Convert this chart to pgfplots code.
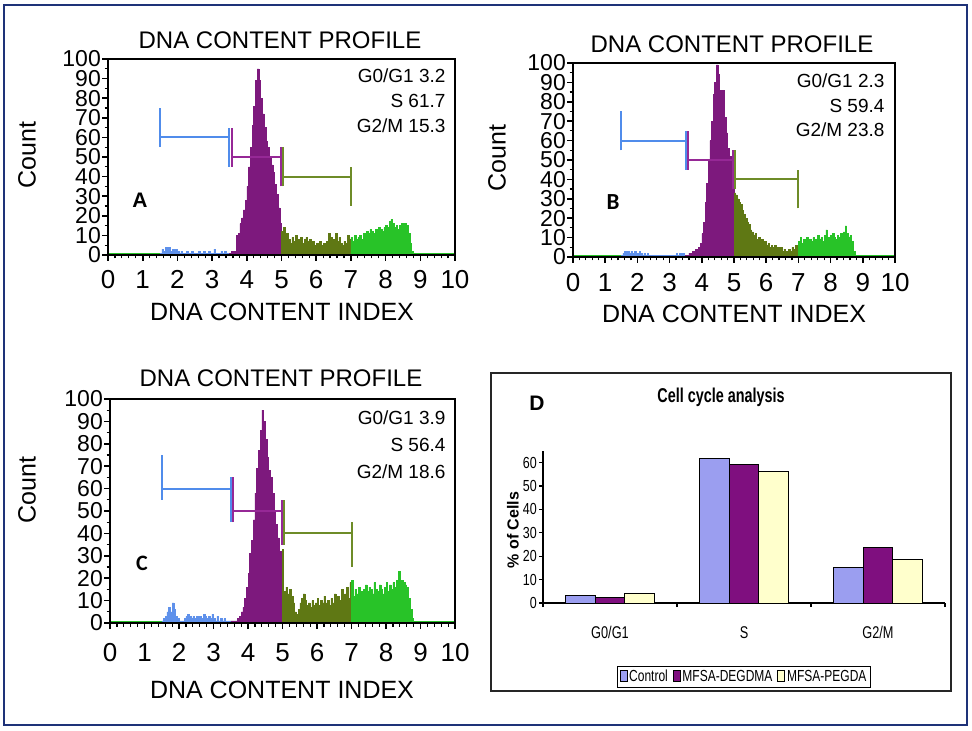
\documentclass[border=0pt]{standalone}
\usepackage{pgfplots}
\pgfplotsset{compat=1.18}
\usepackage{fontspec}
\usepackage{graphicx}
\setmainfont{Liberation Sans}
\newfontfamily\carlito{Carlito}
\definecolor{frameC}{RGB}{30,50,120}
\definecolor{blueH}{RGB}{95,145,235}
\definecolor{purpH}{RGB}{125,25,125}
\definecolor{oliveH}{RGB}{95,120,20}
\definecolor{greenH}{RGB}{40,195,40}
\definecolor{blueB}{RGB}{80,140,235}
\definecolor{purpB}{RGB}{150,40,150}
\definecolor{oliveB}{RGB}{110,140,40}
\definecolor{ctrlC}{RGB}{155,158,240}
\definecolor{degC}{RGB}{127,15,127}
\definecolor{pegC}{RGB}{255,255,204}
\newcommand{\fs}[1]{\fontsize{#1}{#1}\selectfont}
\newcommand{\nar}[1]{\scalebox{0.75}[1]{#1}}
\pgfplotsset{
  hist/.style={const plot, fill=#1, draw=#1, line width=0.5pt},
  gate/.style={#1, line width=2pt},
  histaxis/.style={scale only axis, axis on top, xmin=0, xmax=10, ymin=0, ymax=100,
    xtick={0,...,10}, ytick={0,10,...,100}, minor x tick num=4, minor y tick num=1,
    tick align=outside, tick pos=left,
    major tick length=6pt, minor tick length=3.5pt,
    tick style={black, line width=1.6pt},
    minor tick style={black, line width=1.2pt},
    axis line style={line width=1.8pt, black},
    xticklabel style={font=\fs{26}, inner sep=2pt},
    yticklabel style={font=\fs{23}, inner sep=1pt},
    /pgf/number format/assume math mode=true},
}
\newcommand{\gates}{%
  \addplot[gate=blueB] coordinates {(1.5,55)(1.5,75)};
  \addplot[gate=blueB] coordinates {(1.5,60)(3.5,60)};
  \addplot[gate=blueB] coordinates {(3.5,45)(3.5,65)};
  \addplot[gate=purpB] coordinates {(3.56,45)(3.56,65)};
  \addplot[gate=purpB] coordinates {(3.56,50)(4.98,50)};
  \addplot[gate=purpB] coordinates {(4.98,35)(4.98,55)};
  \addplot[gate=oliveB] coordinates {(5.04,35)(5.04,55)};
  \addplot[gate=oliveB] coordinates {(5.04,40)(7,40)};
  \addplot[gate=oliveB] coordinates {(7,25)(7,45)};
}
\begin{document}
\begin{tikzpicture}
\useasboundingbox (0pt,0pt) rectangle (972pt,731pt);
\fill[white] (0pt,0pt) rectangle (972pt,731pt);

% ---------------- Panel A ----------------
\begin{axis}[histaxis, at={(108pt,476pt)}, anchor=south west, width=347pt, height=196pt,
  xticklabel style={yshift=-7pt}]
\addplot[greenH, line width=1.5pt] coordinates {(0,0.6)(10,0.6)};
\addplot[hist=blueH] coordinates {(1.50,1)(1.55,3)(1.60,2)(1.65,4)(1.70,3)(1.75,4)(1.80,2)(1.85,3)(1.90,2)(1.95,3)(2.00,2)(2.05,1)(2.10,2)(2.15,1)(2.20,1)(2.25,2)(2.30,1)(2.35,1)(2.40,2)(2.45,1)(2.50,1)(2.55,1)(2.60,2)(2.65,1)(2.70,1)(2.75,2)(2.80,1)(2.85,1)(2.90,2)(2.95,1)(3.00,1)(3.05,3)(3.10,1)(3.15,1)(3.20,1)(3.25,2)(3.30,1)(3.35,2)(3.40,1)(3.45,1)(3.50,1)} \closedcycle;
\addplot[hist=purpH] coordinates {(3.50,1)(3.55,2)(3.60,1)(3.65,2)(3.70,10)(3.75,11)(3.80,16)(3.85,19)(3.90,23)(3.95,28)(4.00,35)(4.05,45)(4.10,55)(4.15,66)(4.20,76)(4.25,89)(4.30,95)(4.35,89)(4.40,80)(4.45,72)(4.50,65)(4.55,58)(4.60,55)(4.65,50)(4.70,46)(4.75,42)(4.80,36)(4.85,31)(4.90,24)(4.95,16)(5.00,16)} \closedcycle;
\addplot[hist=oliveH] coordinates {(5.00,12)(5.05,14)(5.10,9)(5.15,11)(5.20,8)(5.25,6)(5.30,9)(5.35,7)(5.40,10)(5.45,8)(5.50,7)(5.55,9)(5.60,6)(5.65,8)(5.70,9)(5.75,7)(5.80,8)(5.85,6)(5.90,7)(5.95,5)(6.00,6)(6.05,5)(6.10,7)(6.15,5)(6.20,6)(6.25,5)(6.30,7)(6.35,11)(6.40,9)(6.45,5)(6.50,8)(6.55,11)(6.60,7)(6.65,9)(6.70,6)(6.75,5)(6.80,7)(6.85,6)(6.90,10)(6.95,8)(7.00,8)} \closedcycle;
\addplot[hist=greenH] coordinates {(7.00,9)(7.05,7)(7.10,10)(7.15,8)(7.20,9)(7.25,10)(7.30,8)(7.35,11)(7.40,10)(7.45,12)(7.50,11)(7.55,13)(7.60,12)(7.65,11)(7.70,13)(7.75,12)(7.80,14)(7.85,13)(7.90,12)(7.95,14)(8.00,15)(8.05,14)(8.10,17)(8.15,18)(8.20,16)(8.25,14)(8.30,15)(8.35,13)(8.40,15)(8.45,16)(8.50,14)(8.55,16)(8.60,15)(8.65,11)(8.70,6)(8.75,2)(8.80,0)} \closedcycle;
\gates
\end{axis}

% ---------------- Panel B ----------------
\begin{axis}[histaxis, at={(573pt,474pt)}, anchor=south west, width=322pt, height=194pt,
  xticklabel style={yshift=-8pt}]
\addplot[greenH, line width=1.5pt] coordinates {(0,0.6)(10,0.6)};
\addplot[hist=blueH] coordinates {(1.50,1)(1.55,2)(1.60,3)(1.65,2)(1.70,3)(1.75,2)(1.80,3)(1.85,2)(1.90,3)(1.95,2)(2.00,2)(2.05,3)(2.10,2)(2.15,1)(2.20,2)(2.25,1)(2.30,2)(2.35,1)(2.40,1)(2.45,1)(2.50,1)(2.55,1)(2.60,1)(2.65,1)(2.70,1)(2.75,1)(2.80,1)(2.85,1)(2.90,1)(2.95,1)(3.00,1)(3.05,1)(3.10,1)(3.15,1)(3.20,2)(3.25,1)(3.30,2)(3.35,1)(3.40,2)(3.45,1)(3.50,1)} \closedcycle;
\addplot[hist=purpH] coordinates {(3.50,1)(3.55,1)(3.60,2)(3.65,2)(3.70,3)(3.75,3)(3.80,4)(3.85,4)(3.90,5)(3.95,7)(4.00,12)(4.05,18)(4.10,28)(4.15,38)(4.20,50)(4.25,60)(4.30,70)(4.35,84)(4.40,90)(4.45,99)(4.50,94)(4.55,86)(4.60,80)(4.65,86)(4.70,72)(4.75,64)(4.80,56)(4.85,52)(4.90,48)(4.95,45)(5.00,45)} \closedcycle;
\addplot[hist=oliveH] coordinates {(5.00,33)(5.05,32)(5.10,30)(5.15,28)(5.20,27)(5.25,24)(5.30,22)(5.35,20)(5.40,18)(5.45,17)(5.50,14)(5.55,13)(5.60,11)(5.65,12)(5.70,9)(5.75,10)(5.80,8)(5.85,9)(5.90,7)(5.95,8)(6.00,6)(6.05,7)(6.10,5)(6.15,6)(6.20,5)(6.25,6)(6.30,4)(6.35,5)(6.40,4)(6.45,5)(6.50,3)(6.55,4)(6.60,3)(6.65,3)(6.70,4)(6.75,3)(6.80,5)(6.85,4)(6.90,6)(6.95,5)(7.00,5)} \closedcycle;
\addplot[hist=greenH] coordinates {(7.00,8)(7.05,10)(7.10,7)(7.15,9)(7.20,8)(7.25,10)(7.30,7)(7.35,9)(7.40,8)(7.45,10)(7.50,9)(7.55,8)(7.60,11)(7.65,9)(7.70,10)(7.75,8)(7.80,11)(7.85,14)(7.90,10)(7.95,9)(8.00,11)(8.05,12)(8.10,10)(8.15,9)(8.20,11)(8.25,10)(8.30,12)(8.35,11)(8.40,13)(8.45,16)(8.50,12)(8.55,10)(8.60,11)(8.65,8)(8.70,3)(8.75,0)} \closedcycle;
\gates
\end{axis}

% ---------------- Panel C ----------------
\begin{axis}[histaxis, at={(110pt,108pt)}, anchor=south west, width=345pt, height=224pt,
  xticklabel style={yshift=-12pt}]
\addplot[greenH, line width=1.5pt] coordinates {(0,0.6)(10,0.6)};
\addplot[hist=blueH] coordinates {(1.50,1)(1.55,2)(1.60,3)(1.65,5)(1.70,7)(1.75,5)(1.80,9)(1.85,6)(1.90,3)(1.95,2)(2.00,1)(2.05,1)(2.10,1)(2.15,2)(2.20,3)(2.25,4)(2.30,3)(2.35,2)(2.40,3)(2.45,2)(2.50,3)(2.55,2)(2.60,3)(2.65,2)(2.70,4)(2.75,3)(2.80,2)(2.85,3)(2.90,2)(2.95,4)(3.00,2)(3.05,1)(3.10,3)(3.15,1)(3.20,2)(3.25,1)(3.30,2)(3.35,1)(3.40,1)(3.45,1)(3.50,1)} \closedcycle;
\addplot[hist=purpH] coordinates {(3.50,1)(3.55,1)(3.60,1)(3.65,1)(3.70,2)(3.75,3)(3.80,5)(3.85,7)(3.90,11)(3.95,16)(4.00,22)(4.05,31)(4.10,37)(4.15,46)(4.20,58)(4.25,69)(4.30,77)(4.35,86)(4.40,95)(4.45,90)(4.50,82)(4.55,74)(4.60,68)(4.65,65)(4.70,58)(4.75,50)(4.80,44)(4.85,38)(4.90,32)(4.95,24)(5.00,18)} \closedcycle;
\addplot[hist=oliveH] coordinates {(5.00,33)(5.02,14)(5.05,14)(5.10,16)(5.15,13)(5.20,15)(5.25,12)(5.30,9)(5.35,5)(5.40,4)(5.45,6)(5.50,9)(5.55,11)(5.60,13)(5.65,10)(5.70,8)(5.75,9)(5.80,7)(5.85,10)(5.90,8)(5.95,9)(6.00,11)(6.05,8)(6.10,10)(6.15,9)(6.20,12)(6.25,9)(6.30,10)(6.35,8)(6.40,11)(6.45,9)(6.50,13)(6.55,10)(6.60,12)(6.65,10)(6.70,15)(6.75,11)(6.80,13)(6.85,16)(6.90,11)(6.95,18)(7.00,14)} \closedcycle;
\addplot[hist=greenH] coordinates {(7.00,19)(7.05,12)(7.10,15)(7.15,13)(7.20,16)(7.25,14)(7.30,13)(7.35,15)(7.40,17)(7.45,14)(7.50,16)(7.55,15)(7.60,13)(7.65,18)(7.70,15)(7.75,14)(7.80,17)(7.85,15)(7.90,13)(7.95,16)(8.00,18)(8.05,14)(8.10,17)(8.15,15)(8.20,18)(8.25,16)(8.30,19)(8.35,23)(8.40,17)(8.45,19)(8.50,18)(8.55,17)(8.60,16)(8.65,11)(8.70,6)(8.75,2)(8.80,0)} \closedcycle;
\gates
\end{axis}

% ---------------- Panel D ----------------
\draw[black!85, line width=1.2pt] (491pt,358pt) rectangle (951pt,40pt);
\begin{axis}[at={(543pt,128pt)}, anchor=south west, scale only axis, width=402pt, height=152pt,
  xmin=-0.5, xmax=2.5, ymin=0, ymax=65,
  ybar=0pt, bar width=29.5pt,
  axis x line*=bottom, axis y line*=left, axis line style={line width=1.2pt, black},
  tick pos=left, tick align=outside,
  major tick length=4pt,
  tick style={black, line width=1.2pt},
  xtick={-0.5,0.5,1.5,2.5}, xticklabel=\empty,
  extra x ticks={0,1,2}, extra x tick labels={\nar{G0/G1},\nar{S},\nar{G2/M}},
  extra x tick style={major tick length=0pt, xticklabel style={font=\fs{17}, yshift=-20pt}},
  ytick={0,10,...,60},
  yticklabel={\scalebox{0.78}[1]{\pgfmathprintnumber{\tick}}},
  yticklabel style={font=\fs{16}, inner sep=2pt},
  /pgf/number format/assume math mode=true,
  legend columns=3,
  legend style={at={(0.5,-0.484)}, anchor=center, draw=black, line width=0.8pt, fill=white,
    font=\fs{16}, inner sep=2pt, /tikz/every even column/.append style={column sep=3pt}},
  legend image code/.code={\draw[#1, line width=0.6pt] (0pt,-5pt) rectangle (7pt,6pt);},
]
\addplot[fill=ctrlC, draw=black, line width=0.9pt] coordinates {(0,3.2)(1,61.7)(2,15.3)};
\addplot[fill=degC, draw=black, line width=0.9pt] coordinates {(0,2.3)(1,59.4)(2,23.8)};
\addplot[fill=pegC, draw=black, line width=0.9pt] coordinates {(0,3.9)(1,56.4)(2,18.6)};
\legend{\nar{Control},\nar{MFSA-DEGDMA},\nar{MFSA-PEGDA}}
\end{axis}

% ---------------- Frame and texts ----------------
\begin{scope}[x=1pt,y=1pt]
\draw[frameC, line width=2.5pt] (4,726) rectangle (967,6);
\node[font=\fs{24}] at (280,691) {DNA CONTENT PROFILE};
\node[font=\fs{25}, rotate=90] at (27,576) {Count};
\node[font=\fs{25}] at (282,419) {DNA CONTENT INDEX};
\node[font=\fs{19}, anchor=east] at (449,655) {G0/G1 3.2};
\node[font=\fs{19}, anchor=east] at (449,630) {S 61.7};
\node[font=\fs{19}, anchor=east] at (449,605) {G2/M 15.3};
\node[font=\fs{21}\bfseries] at (140,531) {A};

\node[font=\fs{24}] at (732,687) {DNA CONTENT PROFILE};
\node[font=\fs{25}, rotate=90] at (497,573) {Count};
\node[font=\fs{25}] at (734,417) {DNA CONTENT INDEX};
\node[font=\fs{19}, anchor=east] at (888,650) {G0/G1 2.3};
\node[font=\fs{19}, anchor=east] at (888,625) {S 59.4};
\node[font=\fs{19}, anchor=east] at (888,601) {G2/M 23.8};
\node[font=\carlito\fs{23}\bfseries] at (613,529) {B};

\node[font=\fs{24}] at (281,353) {DNA CONTENT PROFILE};
\node[font=\fs{25}, rotate=90] at (27,241) {Count};
\node[font=\fs{25}] at (282,41) {DNA CONTENT INDEX};
\node[font=\fs{19}, anchor=east] at (449,313) {G0/G1 3.9};
\node[font=\fs{19}, anchor=east] at (449,286) {S 56.4};
\node[font=\fs{19}, anchor=east] at (449,259) {G2/M 18.6};
\node[font=\carlito\fs{22}\bfseries] at (142,168) {C};

\node[font=\fs{20}\bfseries] at (721,334) {\scalebox{0.72}[1]{Cell cycle analysis}};
\node[font=\fs{21}\bfseries] at (537,328) {D};
\node[font=\fs{16}\bfseries, rotate=90] at (513,201) {\% of Cells};
\end{scope}
\end{tikzpicture}
\end{document}
